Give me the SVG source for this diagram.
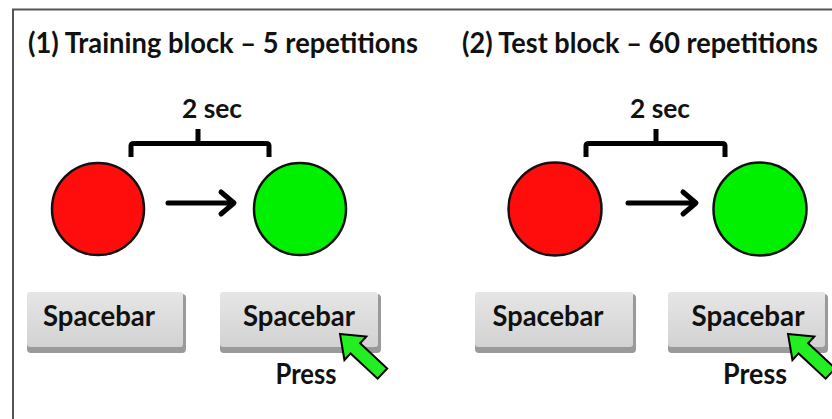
<svg xmlns="http://www.w3.org/2000/svg" width="832" height="419" viewBox="0 0 832 419">
<defs>
<style>
.t{font-family:Lato,"Open Sans","Liberation Sans",sans-serif;font-weight:bold;fill:#111}
.title{font-size:28px}
.lbl{font-size:26px}
.key{font-size:28px}
.brk{fill:none;stroke:#000;stroke-width:5;stroke-linejoin:round;stroke-linecap:butt}
.arr{fill:none;stroke:#000;stroke-width:5;stroke-linecap:round;stroke-linejoin:round}
.red{fill:#ff0d0d;stroke:#111;stroke-width:2.5}
.grn{fill:#00f000;stroke:#111;stroke-width:2.5}
.kbase{fill:#9a9a9a}
.ktop{fill:url(#kg)}
.garr{fill:#22ee22;stroke:#000;stroke-width:2;stroke-linejoin:miter}
</style>
<linearGradient id="kg" x1="0" y1="0" x2="0" y2="1">
<stop offset="0" stop-color="#e6e6e6"/>
<stop offset="1" stop-color="#d2d2d2"/>
</linearGradient>
<polygon id="ga" points="0,0 21,-16 21,-7 58,-7 58,7 21,7 21,16"/>
</defs>
<rect width="832" height="419" fill="#fff"/>
<path d="M13,419 V9.5 H832" fill="none" stroke="#555" stroke-width="2"/>

<g id="title1"><text class="t title" x="28" y="53" textLength="390" lengthAdjust="spacingAndGlyphs">(1) Training block – 5 repetitions</text></g>
<g id="title2"><text class="t title" x="462" y="53" textLength="356" lengthAdjust="spacingAndGlyphs">(2) Test block – 60 repetitions</text></g>

<g id="sec1"><text class="t lbl" x="212" y="118" text-anchor="middle" textLength="60" lengthAdjust="spacingAndGlyphs">2 sec</text></g>
<g id="sec2"><text class="t lbl" x="660" y="118" text-anchor="middle" textLength="60" lengthAdjust="spacingAndGlyphs">2 sec</text></g>

<g id="red1"><circle class="red" cx="98" cy="209" r="46"/></g>
<g id="green1"><circle class="grn" cx="300" cy="209" r="46"/></g>
<g id="red2"><circle class="red" cx="555" cy="209" r="46.5"/></g>
<g id="green2"><circle class="grn" cx="760" cy="209" r="46.5"/></g>

<g id="connectors">
<path class="brk" d="M131,157 V146 Q131,143.5 134,143.5 H266 Q269,143.5 269,146 V157 M198,143.5 V129"/>
<path class="brk" d="M586,157 V146 Q586,143.5 589,143.5 H722 Q725,143.5 725,146 V157 M656,143.5 V129"/>
<path class="arr" d="M168,203 H233 M221,192 L234,203 L221,214"/>
<path class="arr" d="M628,203 H695 M683,192 L696,203 L683,214"/>
</g>

<g id="key1">
<rect class="kbase" x="27" y="294" width="159" height="59" rx="4"/>
<rect class="ktop" x="27" y="292" width="156" height="55" rx="3"/>
<text class="t key" x="99" y="326" text-anchor="middle" textLength="112" lengthAdjust="spacingAndGlyphs">Spacebar</text>
</g>
<g id="key2">
<rect class="kbase" x="220" y="294" width="161" height="59" rx="4"/>
<rect class="ktop" x="220" y="292" width="158" height="55" rx="3"/>
<text class="t key" x="299" y="326" text-anchor="middle" textLength="112" lengthAdjust="spacingAndGlyphs">Spacebar</text>
</g>
<g id="key3">
<rect class="kbase" x="475" y="294" width="161" height="59" rx="4"/>
<rect class="ktop" x="475" y="292" width="158" height="55" rx="3"/>
<text class="t key" x="548" y="326" text-anchor="middle" textLength="111" lengthAdjust="spacingAndGlyphs">Spacebar</text>
</g>
<g id="key4">
<rect class="kbase" x="668" y="294" width="160" height="59" rx="4"/>
<rect class="ktop" x="668" y="292" width="157" height="55" rx="3"/>
<text class="t key" x="748" y="326" text-anchor="middle" textLength="113" lengthAdjust="spacingAndGlyphs">Spacebar</text>
</g>

<g id="press1">
<use href="#ga" class="garr" transform="translate(340,334) rotate(43)"/>
<text class="t key" x="306" y="384" text-anchor="middle" textLength="61" lengthAdjust="spacingAndGlyphs">Press</text>
</g>
<g id="press2">
<use href="#ga" class="garr" transform="translate(788,334) rotate(43)"/>
<text class="t key" x="755" y="384" text-anchor="middle" textLength="64" lengthAdjust="spacingAndGlyphs">Press</text>
</g>
</svg>
